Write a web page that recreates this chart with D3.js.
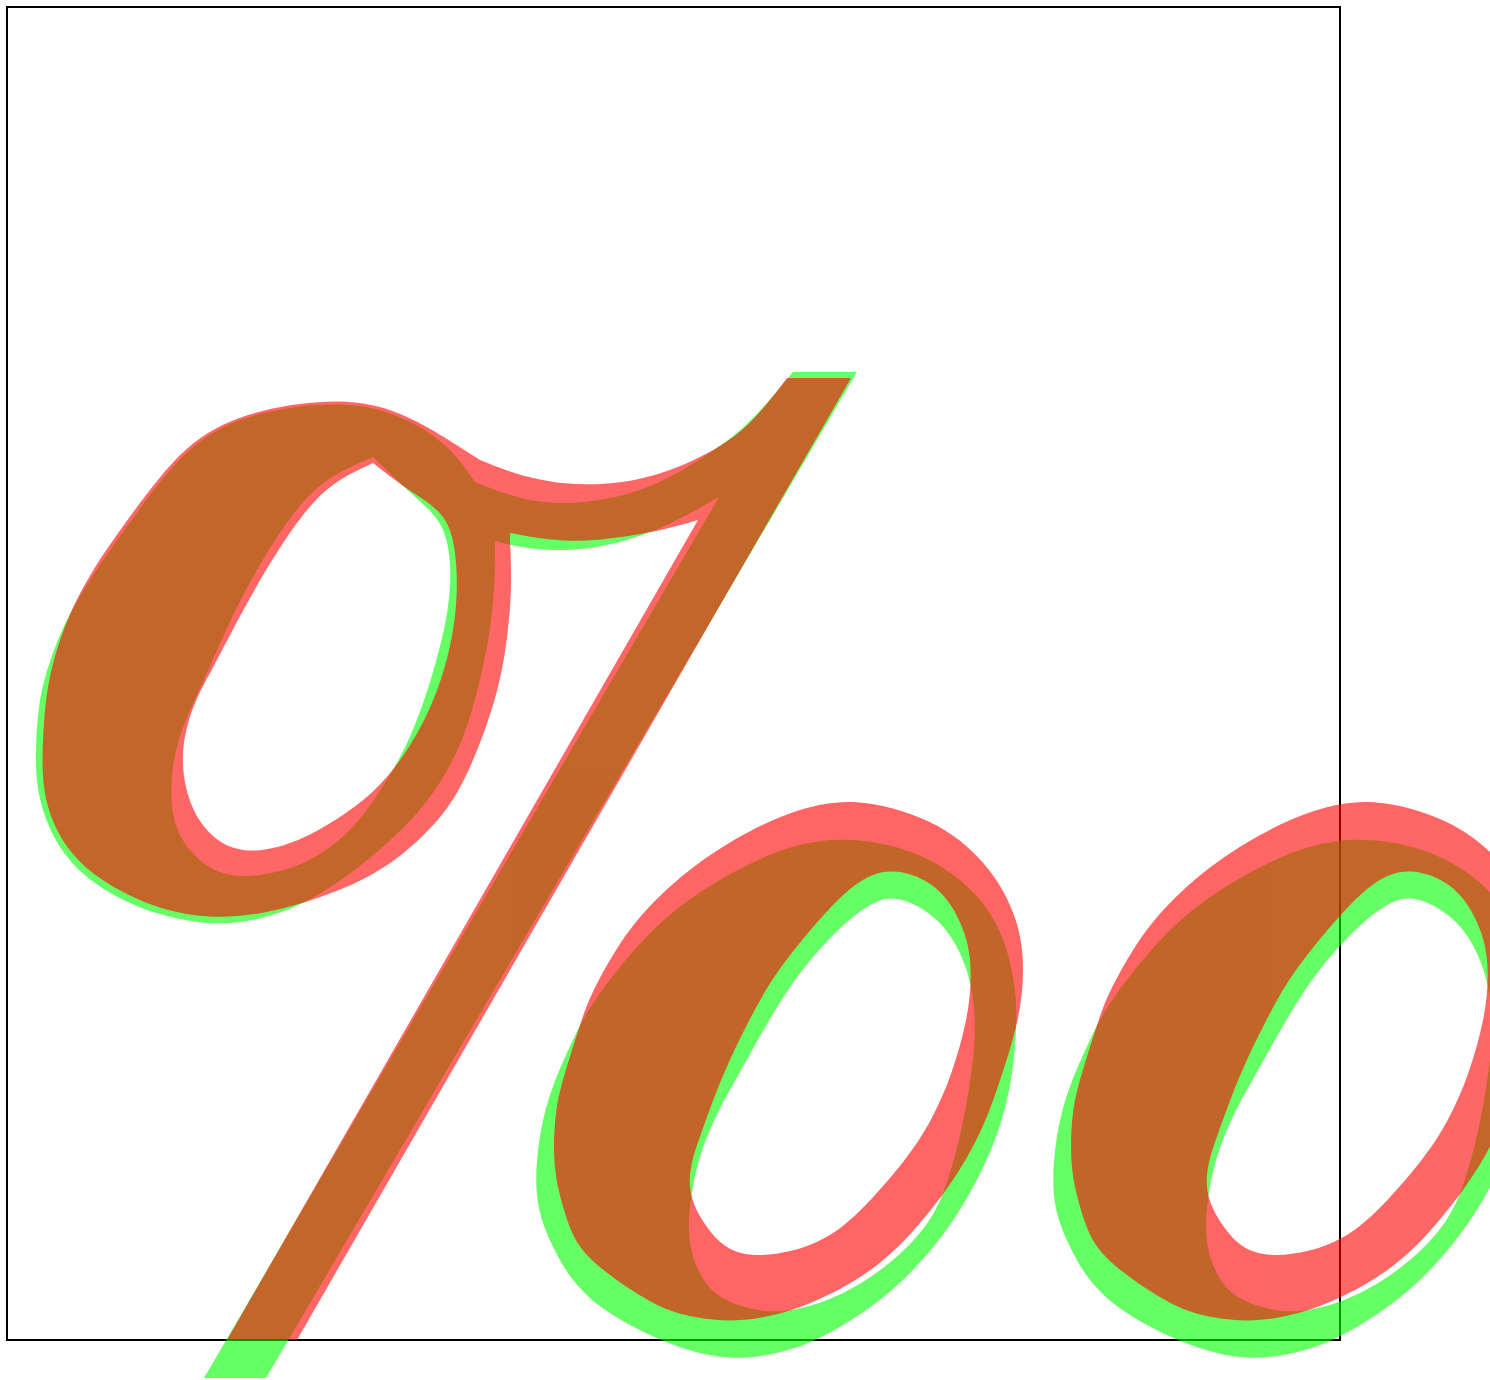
<!DOCTYPE html>
<html><head><meta charset="utf-8">
<script src="https://cdn.jsdelivr.net/npm/d3@7"></script>
<style>html,body{margin:0;padding:0;background:#fff;overflow:hidden}</style>
</head><body>
<script>
// Glyph "‰" outlines, two renderings (green drawn first, red on top).
// Units: frame (em box) coordinates, 0..1333.
const glyphNames = ["green", "red"];
const glyphColors = ["#00ff00", "#ff0000"];
const oOffsets = [0, 517];

// ---- green rendering ----
const greenSwashUpper = [[468,475],[518,495],[575,498],[645,483],[714,440],[748,411],[786,365]];
const greenSlash = [[786,365],[850,365],[259,1371],[197,1371],[712,490]];
const greenSwashLower = [[712,490],[645,528],[575,545],[518,542],[488,534]];
const greenZeroOuter = [[488,534],[488,578],[483,628],[471,683],[458,728],[440,766],[413,805],[380,837],[343,868],[296,898],[253,913],[206,919],[148,908],[96,884],[61,855],[40,819],[30,783],[28,748],[31,703],[36,675],[53,623],[85,568],[135,498],[185,433],[251,403],[345,393],[401,411],[443,439],[468,475]];
const greenZeroHole = [[366,450],[405,488],[438,515],[445,561],[441,611],[423,678],[403,733],[378,778],[346,823],[313,848],[286,862],[233,873],[198,861],[173,833],[163,802],[165,753],[178,713],[195,678],[235,585],[285,505],[318,471],[366,450]];
const greenOOuter = [[845,830],[918,845],[975,888],[1001,938],[1011,995],[1008,1045],[1003,1083],[991,1128],[973,1168],[951,1208],[921,1248],[885,1285],[843,1315],[801,1338],[761,1349],[721,1353],[668,1341],[601,1308],[568,1278],[551,1251],[533,1213],[528,1178],[531,1138],[538,1101],[551,1065],[568,1028],[585,995],[635,931],[685,888],[751,851],[798,835]];
const greenOHole = [[888,886],[935,911],[961,958],[970,1011],[965,1068],[953,1133],[935,1195],[913,1228],[885,1255],[853,1278],[818,1295],[788,1303],[758,1306],[718,1295],[698,1278],[685,1251],[681,1223],[683,1195],[691,1151],[710,1105],[735,1062],[785,971],[835,918],[861,898]];

// ---- red rendering ----
const redSwashUpper = [[473,453],[518,471],[575,480],[645,473],[714,441],[748,413],[780,371]];
const redSlash = [[780,371],[844,371],[290,1333],[220,1333],[691,513]];
const redSwashLower = [[691,513],[645,526],[575,536],[528,531],[503,526]];
const redJoin = [[503,526],[503,533]];
const redZeroOuter = [[503,533],[505,578],[501,628],[493,678],[475,733],[453,784],[428,818],[396,848],[358,873],[313,891],[258,907],[206,912],[153,903],[103,880],[68,853],[46,819],[36,783],[35,748],[38,693],[46,653],[60,612],[83,565],[133,495],[184,430],[251,401],[345,390],[401,408],[445,435],[473,453]];
const redZeroHole = [[366,456],[406,487],[443,508],[451,561],[449,613],[438,663],[421,708],[396,751],[371,781],[346,802],[296,834],[243,848],[208,835],[185,805],[175,768],[176,730],[188,693],[205,663],[245,585],[291,511],[325,475],[366,456]];
const redOOuter = [[855,791],[935,815],[985,861],[1011,911],[1018,958],[1013,1011],[995,1068],[978,1118],[951,1168],[918,1211],[885,1248],[843,1278],[801,1298],[763,1310],[725,1315],[688,1311],[651,1301],[601,1268],[573,1243],[561,1218],[551,1183],[546,1151],[548,1101],[558,1065],[575,1011],[585,985],[608,943],[635,905],[685,858],[751,818],[803,798]];
const redOHole = [[885,859],[935,878],[961,928],[965,968],[961,1011],[945,1068],[925,1113],[901,1151],[851,1208],[818,1233],[785,1245],[748,1250],[721,1243],[705,1228],[688,1203],[681,1178],[685,1153],[691,1135],[715,1068],[741,1015],[768,965],[818,905],[851,873]];

const W = 1490, H = 1380;
const x = d3.scaleLinear().domain([0, 1333]).range([7, 1340]);
const y = d3.scaleLinear().domain([0, 1333]).range([7, 1340]);

const smoothLine = d3.line().x(d => x(d[0])).y(d => y(d[1])).curve(d3.curveBasis);
const straightLine = d3.line().x(d => x(d[0])).y(d => y(d[1])).curve(d3.curveLinear);
const closedLine = d3.line().x(d => x(d[0])).y(d => y(d[1])).curve(d3.curveBasisClosed);

function contour(runs) {
  return runs.map((r, i) => {
    const s = (r.smooth ? smoothLine : straightLine)(r.pts);
    return i === 0 ? s : "L" + s.slice(1);
  }).join("") + "Z";
}
function shifted(pts, dx) { return pts.map(p => [p[0] + dx, p[1]]); }

const glyphData = {
  green: {
    percent: contour([{pts: greenSwashUpper, smooth: true}, {pts: greenSlash, smooth: false},
                      {pts: greenSwashLower, smooth: true}, {pts: greenZeroOuter, smooth: true}])
             + contour([{pts: greenZeroHole, smooth: true}]),
    oOuter: greenOOuter, oHole: greenOHole
  },
  red: {
    percent: contour([{pts: redSwashUpper, smooth: true}, {pts: redSlash, smooth: false},
                      {pts: redSwashLower, smooth: true}, {pts: redJoin, smooth: false},
                      {pts: redZeroOuter, smooth: true}])
             + contour([{pts: redZeroHole, smooth: true}]),
    oOuter: redOOuter, oHole: redOHole
  }
};

const svg = d3.select("body").append("svg").attr("width", W).attr("height", H);

// frame (em box)
svg.append("rect").attr("x", x(0)).attr("y", y(0))
  .attr("width", x(1333) - x(0)).attr("height", y(1333) - y(0))
  .attr("fill", "none").attr("stroke", "#000").attr("stroke-width", 2);

const groups = svg.selectAll("g.glyph").data(glyphNames).join("g")
  .attr("class", "glyph").attr("opacity", 0.6)
  .attr("fill", (d, i) => glyphColors[i]);

groups.append("path").attr("fill-rule", "evenodd").attr("d", d => glyphData[d].percent);

groups.each(function(d) {
  d3.select(this).selectAll("path.o").data(oOffsets).join("path")
    .attr("class", "o").attr("fill-rule", "evenodd")
    .attr("d", dx => closedLine(shifted(glyphData[d].oOuter, dx)) + closedLine(shifted(glyphData[d].oHole, dx)));
});
</script>
</body></html>
